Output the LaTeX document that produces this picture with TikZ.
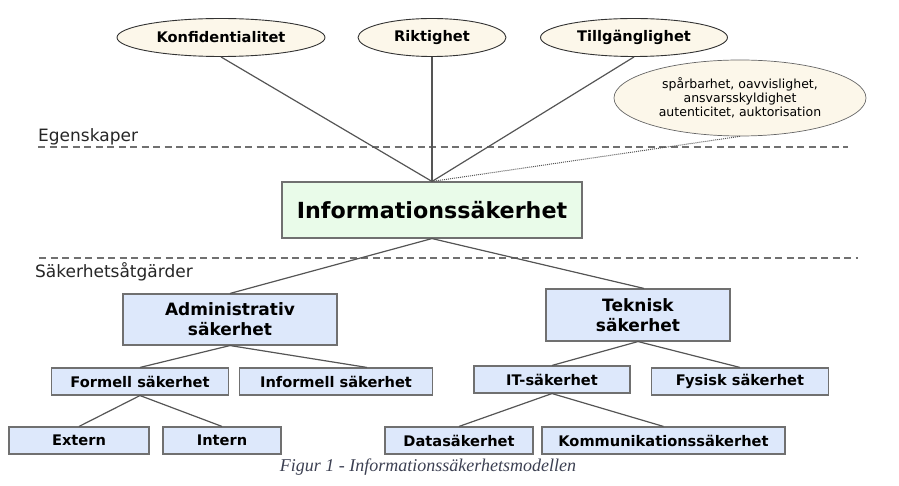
\documentclass[tikz,border=0pt]{standalone}
\usepackage{fontspec}
\usepackage{xcolor}
\usepackage{tikz}
\usetikzlibrary{arrows.meta, shapes.geometric, calc}
\newfontfamily\dvs{DejaVu Sans}
\newfontfamily\capserif{Liberation Serif}
\definecolor{cream}{RGB}{252,247,234}
\definecolor{boxblue}{RGB}{221,232,251}
\definecolor{boxgreen}{RGB}{233,251,233}
\definecolor{linegray}{RGB}{85,85,85}
\definecolor{framegray}{RGB}{112,112,112}
\definecolor{capblue}{RGB}{60,64,82}

\begin{document}
\begin{tikzpicture}[x=1pt, y=-1pt,
    prop/.style={ellipse, draw=black!80, fill=cream, line width=0.9pt, inner sep=0pt,
                 font=\dvs\bfseries\fontsize{14.6}{16}\selectfont},
    leaf/.style={rectangle, draw=framegray, fill=boxblue, line width=1.1pt, inner sep=0pt,
                 minimum height=27pt, font=\dvs\bfseries\fontsize{14.6}{16}\selectfont},
    area/.style={leaf, align=center, font=\dvs\bfseries\fontsize{17}{20}\selectfont},
    conn/.style={linegray, line width=1.2pt},
    layer/.style={framegray, line width=1.4pt, dash pattern=on 7pt off 4.5pt}]
  \useasboundingbox (0,0) rectangle (899,486);

  % Egenskaper --- the ellipses on top
  \foreach \nm/\x/\w/\txt in {konf/221/208/Konfidentialitet,
                              rikt/432/148/Riktighet,
                              tillg/634/187/Tillgänglighet} {
    \node[prop, minimum width=\w pt, minimum height=38pt] (\nm) at (\x,37.5) {\txt};
  }
  \node[ellipse, draw=black!60, fill=cream, line width=0.7pt, inner sep=0pt,
        minimum width=252pt, minimum height=76pt, align=center,
        font=\dvs\fontsize{12.5}{14}\selectfont] (extra) at (740,98)
    {spårbarhet, oavvislighet,\\ ansvarsskyldighet\\ autenticitet, auktorisation};

  % Layer lines and their labels
  \coordinate (egL) at (38,147); \coordinate (egR) at (848,147);
  \coordinate (saL) at (39,258); \coordinate (saR) at (858,258);
  \draw[layer] (egL) -- (egR);
  \draw[layer] (saL) -- (saR);
  \node[anchor=base west, inner sep=0pt, font=\dvs\fontsize{17}{20}\selectfont,
        black!85] (eglabel) at (38,142) {Egenskaper};
  \node[anchor=base west, inner sep=0pt, font=\dvs\fontsize{17}{20}\selectfont,
        black!85] (salabel) at (35,277) {Säkerhetsåtgärder};

  % Informationssäkerhet in the middle
  \node[rectangle, draw=framegray, fill=boxgreen, line width=1.1pt, inner sep=0pt,
        minimum width=300pt, minimum height=56pt,
        font=\dvs\bfseries\fontsize{22.2}{26}\selectfont] (info) at (432,210)
    {Informationssäkerhet};

  % Säkerhetsåtgärder --- two areas
  \node[area, minimum width=214pt, minimum height=51pt] (adm) at (230,319.5)
    {Administrativ\\säkerhet};
  \node[area, minimum width=184pt, minimum height=52pt] (tek) at (638,315)
    {Teknisk\\säkerhet};

  % Leaves
  \foreach \nm/\x/\y/\w/\txt in {form/140/381.5/177/Formell säkerhet,
                                 inform/336/381.5/193/Informell säkerhet,
                                 it/552/379.5/156/IT-säkerhet,
                                 fys/740/381.5/177/Fysisk säkerhet,
                                 ext/79/440.5/140/Extern,
                                 int/222/440.5/118/Intern,
                                 data/459/440.5/148/Datasäkerhet,
                                 komm/663.5/440.5/243/Kommunikationssäkerhet} {
    \node[leaf, minimum width=\w pt] (\nm) at (\x,\y) {\txt};
  }

  % Connectors
  \foreach \a in {konf, rikt, tillg} {
    \draw[conn] (\a.south) -- (info.north);
  }
  \draw[linegray, line width=1pt, densely dotted] (extra.south) -- (info.north);
  \draw[conn] (info.south) -- (adm.north);
  \draw[conn] (info.south) -- ([xshift=6pt]tek.north);
  \draw[conn] (adm.south) -- (form.north);
  \draw[conn] (adm.south) -- ([xshift=31pt]inform.north);
  \draw[conn] (tek.south) -- (it.north);
  \draw[conn] (tek.south) -- (fys.north);
  \foreach \a/\b in {form/ext, form/int, it/data, it/komm} {
    \draw[conn] (\a.south) -- (\b.north);
  }

  % Caption
  \node[font=\capserif\itshape\fontsize{18}{22}\selectfont, capblue] (caption)
    at (428,467) {Figur 1 - Informationssäkerhetsmodellen};
\end{tikzpicture}
\end{document}
